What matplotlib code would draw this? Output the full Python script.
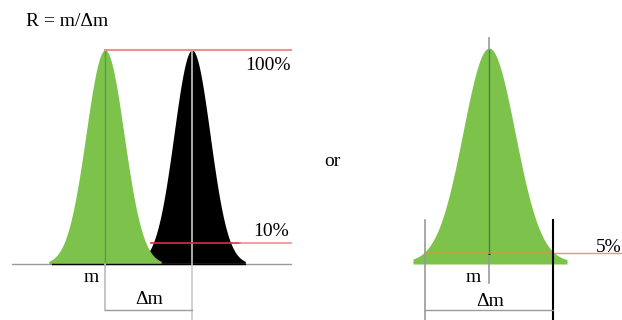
import numpy as np
import matplotlib.pyplot as plt

plt.rcParams['font.family'] = ['Liberation Serif', 'DejaVu Serif']

# peak centres (x) and widths, heights as fraction of the tallest peak
left_centres = [105, 192]
left_sigmas = [19, 18]
left_colors = ['#7dc24b', '#000000']
right_centre = 489
right_sigma = 26
valley_level = 0.10      # 10% valley definition
fwhm_level = 0.05        # 5% peak width definition
labels = ['100%', '10%', '5%']

GREEN = '#7dc24b'
GRAY = '#9a9a9a'
PINK = '#ef8f8f'
FS = 14


def gauss(x, c, s):
    return np.exp(-0.5 * ((x - c) / s) ** 2)


fig = plt.figure(figsize=(6.22, 3.2), dpi=100)
ax = fig.add_axes([0, 0, 1, 1])
ax.set_xlim(0, 622)
# baseline at 0, top of peak at 1
ax.set_ylim((264 - 320) / 214, 264 / 214)
ax.axis('off')

px = 1 / 214  # one pixel in y units

# ---- left: two peaks separated by a 10% valley ----
x1 = np.linspace(40, 260, 600)
for c, s, col in zip(left_centres[::-1], left_sigmas[::-1], left_colors[::-1]):
    y = gauss(x1, c, s)
    ax.fill_between(x1, 0, y, where=y > 0.012, color=col, lw=0)

ax.plot([12, 291], [0, 0], color=GRAY, lw=1)
ax.plot([52, 245], [0, 0], color='black', lw=1)

# centre lines
ax.plot([left_centres[0]] * 2, [1, 0], color='#4fa04a', lw=1)
ax.plot([left_centres[0]] * 2, [0, -46 * px], color='#bbbbbb', lw=1.2)
ax.plot([left_centres[1]] * 2, [1, -56 * px], color='#c8c8c8', lw=1.2)

# 100% and 10% lines
ax.plot([left_centres[0], 291], [1, 1], color=PINK, lw=1.5)
xv = left_centres[1] - left_sigmas[1] * np.sqrt(-2 * np.log(valley_level))
ax.plot([xv - 2, 240], [valley_level] * 2, color='#d9303a', lw=1.2)
ax.plot([240, 291], [valley_level] * 2, color=PINK, lw=1.2)

ax.plot([left_centres[0], left_centres[1]], [-46 * px] * 2, color=GRAY, lw=1)

ax.text(291, 1 - 16 * px, labels[0], ha='right', va='center', fontsize=FS)
ax.text(289, valley_level + 11 * px, labels[1], ha='right', va='center', fontsize=FS)
ax.text(91, -14 * px, 'm', ha='center', va='center', fontsize=FS)
ax.text(149, -35 * px, '\u0394m', ha='center', va='center', fontsize=FS)
ax.text(26, 243 * px, 'R = m/\u0394m', ha='left', va='center', fontsize=FS)

ax.text(332, (264 - 161) * px, 'or', ha='center', va='center', fontsize=FS)

# ---- right: single peak, width at 5% ----
x2 = np.linspace(413, 567, 400)
y2 = gauss(x2, right_centre, right_sigma)
ax.fill_between(x2, 0, y2 + 2 * px, color=GREEN, lw=0)

half = right_sigma * np.sqrt(-2 * np.log(fwhm_level))
xl, xr = right_centre - half, right_centre + half

ax.plot([right_centre] * 2, [1 + 12 * px, 1], color=GRAY, lw=1.2)
ax.plot([right_centre] * 2, [1, fwhm_level], color='#3a8a3a', lw=1)
ax.plot([right_centre] * 2, [fwhm_level, -19 * px], color=GRAY, lw=1.2)
ax.plot([right_centre], [fwhm_level], 'k.', ms=2)

ax.plot([xl, xr], [fwhm_level] * 2, color='#c8a040', lw=1.2)
ax.plot([xr, 622], [fwhm_level] * 2, color=PINK, lw=1)

ax.plot([xl] * 2, [44 * px, -56 * px], color=GRAY, lw=1.2)
ax.plot([xr] * 2, [44 * px, -56 * px], color='black', lw=1.5)
ax.plot([xl, xr], [-46 * px] * 2, color=GRAY, lw=1)

ax.text(right_centre - 16, -13 * px, 'm', ha='center', va='center', fontsize=FS)
ax.text(right_centre + 1, -37 * px, '\u0394m', ha='center', va='center', fontsize=FS)
ax.text(622, (264 - 247) * px, labels[2], ha='right', va='center', fontsize=FS)

fig.savefig('out.png', dpi=100)
